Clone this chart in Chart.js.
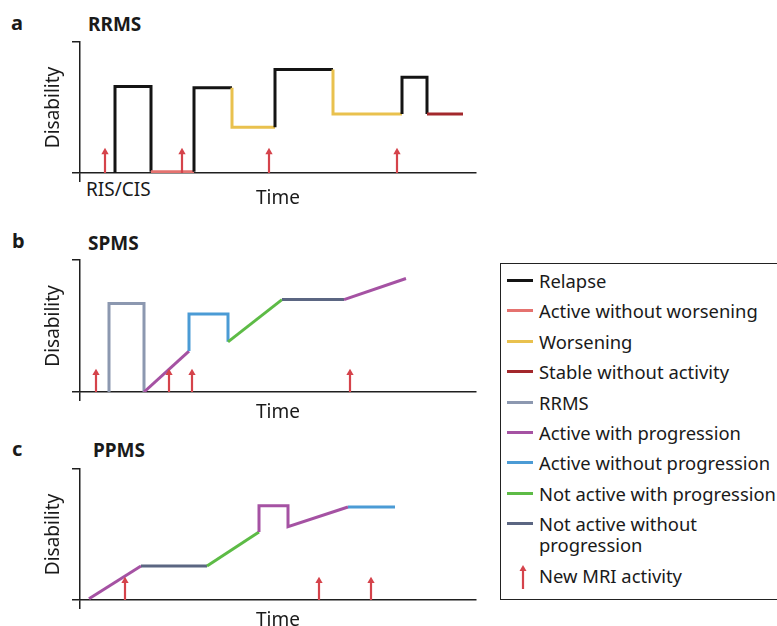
<!DOCTYPE html>
<html>
<head>
<meta charset="utf-8">
<script src="https://cdn.jsdelivr.net/npm/chart.js@4.4.1/dist/chart.umd.min.js"></script>
<style>
  html, body { margin: 0; padding: 0; background: #fff; overflow: hidden; }
  body { width: 777px; height: 626px; position: relative; font-family: "Noto Sans", sans-serif; color: #1a1a1a; }
  canvas { position: absolute; left: 0; }
  .lbl { position: absolute; white-space: nowrap; line-height: 1; }
  .letter { font-weight: bold; font-size: 20px; }
  .title { font-weight: bold; font-size: 19px; }
  .note { font-size: 19px; }
  #legend { position: absolute; left: 500px; top: 263px; width: 300px; height: 337px;
            border: 1.3px solid #222; box-sizing: border-box; padding-top: 6px; font-size: 18.4px; }
  #legend .row { position: relative; padding-left: 38px; line-height: 21.3px; margin-bottom: 9.1px; white-space: nowrap; }
  #legend .swatch { position: absolute; left: 6px; top: 9px; width: 26px; height: 3px; }
  #legend svg { position: absolute; left: 16px; top: 0; }
</style>
</head>
<body>

<div class="lbl letter" style="left:11px;top:13px">a</div>
<div class="lbl title"  style="left:88px;top:15px">RRMS</div>
<div class="lbl note"   style="left:86px;top:180px">RIS/CIS</div>
<div class="lbl letter" style="left:12px;top:231px">b</div>
<div class="lbl title"  style="left:88px;top:234px">SPMS</div>
<div class="lbl letter" style="left:12px;top:439px">c</div>
<div class="lbl title"  style="left:93px;top:441px">PPMS</div>

<canvas id="chart-rrms"></canvas>
<canvas id="chart-spms"></canvas>
<canvas id="chart-ppms"></canvas>
<div id="legend"></div>

<script>
// ---- data -------------------------------------------------------------
const phaseNames = [
  'Relapse', 'Active without worsening', 'Worsening', 'Stable without activity', 'RRMS',
  'Active with progression', 'Active without progression', 'Not active with progression',
  'Not active without progression',
];
const mriLabel = 'New MRI activity';

// a – RRMS (time, disability, phase of each segment, MRI events)
const rrmsTime       = [35, 35, 71, 71, 114, 114, 152, 152, 195, 195, 253, 253, 322, 322, 347, 347, 383];
const rrmsDisability = [0, 66, 66, 1, 1, 65, 65, 35, 35, 79, 79, 45, 45, 73, 73, 45, 45];
const rrmsPhase = ['Relapse', 'Relapse', 'Relapse', 'Active without worsening', 'Relapse', 'Relapse',
  'Worsening', 'Worsening', 'Relapse', 'Relapse', 'Worsening', 'Worsening', 'Relapse', 'Relapse',
  'Relapse', 'Stable without activity'];
const rrmsMri = [25, 102, 189, 317];

// b – SPMS
const spmsTime       = [29, 29, 64, 64, 109, 109, 148, 148, 202, 264, 326];
const spmsDisability = [0, 67, 67, 0, 31, 59, 59, 38, 70, 70, 86];
const spmsPhase = ['RRMS', 'RRMS', 'RRMS', 'Active with progression', 'Active without progression',
  'Active without progression', 'Active without progression', 'Not active with progression',
  'Not active without progression', 'Active with progression'];
const spmsMri = [16, 89, 112, 270];

// c – PPMS
const ppmsTime       = [9, 61, 127, 179, 179, 208, 208, 268, 315];
const ppmsDisability = [1, 26, 26, 52, 72, 72, 56, 71, 71];
const ppmsPhase = ['Active with progression', 'Not active without progression', 'Not active with progression',
  'Active with progression', 'Active with progression', 'Active with progression', 'Active with progression',
  'Active without progression'];
const ppmsMri = [45, 239, 291];

const mriReach = [16, 14.5, 14.5];   // height of the arrow heads per panel

// ---- styles -----------------------------------------------------------
const PHASE_COLORS = {
  'Relapse': '#141414',
  'Active without worsening': '#e5726f',
  'Worsening': '#e9c14e',
  'Stable without activity': '#a3282c',
  'RRMS': '#8c98b0',
  'Active with progression': '#a552a3',
  'Active without progression': '#4b9bd5',
  'Not active with progression': '#5dbb46',
  'Not active without progression': '#5b6682',
};
const MRI_COLOR  = '#d5434b';
const AXIS_COLOR = '#1f1f1f';
const FONT = 'Noto Sans';

// canvas placement for each panel: top of canvas, chart area top/bottom, gap above "Time"
const PANELS = [
  { id: 'chart-rrms', top: 0,   areaTop: 42,  areaBottom: 173, timePad: 5.6 },
  { id: 'chart-spms', top: 225, areaTop: 260, areaBottom: 392, timePad: 0 },
  { id: 'chart-ppms', top: 440, areaTop: 469, areaBottom: 600, timePad: 0 },
];
const CANVAS_W = 482, AREA_RIGHT = 476, AREA_LEFT = 80;

function makePanel(panel, times, levels, phases, mri, reach) {
  const cv = document.getElementById(panel.id);
  const xAxisH = 9 + panel.timePad + 19 * 1.2;
  const h = Math.ceil(panel.areaBottom - panel.top + xAxisH + 2);
  cv.width = CANVAS_W; cv.height = h;
  cv.style.top = panel.top + 'px';

  const path = times.map((t, i) => ({ x: t, y: levels[i] }));
  const arrows = [];
  mri.forEach(t => { arrows.push({ x: t, y: 0 }, { x: t, y: reach }, { x: t, y: null }); });

  // y-axis width = tick(8) + title lineHeight + title paddings
  const layoutLeft = 30;
  const yPadTop = 12.6;
  const yPadBottom = AREA_LEFT - layoutLeft - 8 - 19 * 1.2 - yPadTop;

  return new Chart(cv.getContext('2d'), {
    type: 'line',
    data: {
      datasets: [
        {
          data: arrows,
          borderColor: MRI_COLOR, backgroundColor: MRI_COLOR, borderWidth: 2.2,
          spanGaps: false,
          pointStyle: 'triangle',
          pointRadius: ctx => (ctx.dataIndex % 3 === 1 ? 4.2 : 0),
          pointBorderWidth: 0,
        },
        {
          data: path,
          borderWidth: 3, pointRadius: 0, tension: 0,
          borderColor: PHASE_COLORS[phases[0]],
          segment: { borderColor: ctx => PHASE_COLORS[phases[ctx.p0DataIndex]] },
        },
      ],
    },
    options: {
      responsive: false, animation: false, devicePixelRatio: 1,
      layout: { padding: { top: panel.areaTop - panel.top, right: CANVAS_W - AREA_RIGHT, left: layoutLeft,
                           bottom: h - (panel.areaBottom - panel.top) - xAxisH } },
      plugins: { legend: { display: false }, tooltip: { enabled: false } },
      scales: {
        x: {
          type: 'linear', min: 0, max: AREA_RIGHT - AREA_LEFT,
          afterBuildTicks: s => { s.ticks = [{ value: 0 }]; },
          ticks: { display: false },
          grid: { drawOnChartArea: false, drawTicks: true, tickLength: 9, color: AXIS_COLOR, lineWidth: 1.5 },
          border: { display: true, color: AXIS_COLOR, width: 1.5 },
          title: { display: true, text: 'Time', color: '#1a1a1a', font: { family: FONT, size: 19 },
                   padding: { top: panel.timePad, bottom: 0 } },
        },
        y: {
          type: 'linear', min: 0, max: 100,
          afterBuildTicks: s => { s.ticks = [{ value: 0 }, { value: 100 }]; },
          ticks: { display: false },
          grid: { drawOnChartArea: false, drawTicks: true, tickLength: 8, color: AXIS_COLOR, lineWidth: 1.5 },
          border: { display: true, color: AXIS_COLOR, width: 1.5 },
          title: { display: true, text: 'Disability', color: '#1a1a1a', font: { family: FONT, size: 19 },
                   padding: { top: yPadTop, bottom: yPadBottom } },
        },
      },
    },
  });
}

makePanel(PANELS[0], rrmsTime, rrmsDisability, rrmsPhase, rrmsMri, mriReach[0]);
makePanel(PANELS[1], spmsTime, spmsDisability, spmsPhase, spmsMri, mriReach[1]);
makePanel(PANELS[2], ppmsTime, ppmsDisability, ppmsPhase, ppmsMri, mriReach[2]);

// ---- legend box ------------------------------------------------------
const legend = document.getElementById('legend');
phaseNames.forEach(name => {
  const row = document.createElement('div');
  row.className = 'row';
  const sw = document.createElement('span');
  sw.className = 'swatch';
  sw.style.background = PHASE_COLORS[name];
  row.appendChild(sw);
  const txt = document.createElement('span');
  // the long last entry wraps onto two lines, as in the figure
  txt.innerHTML = name === 'Not active without progression' ? 'Not active without<br>progression' : name;
  row.appendChild(txt);
  legend.appendChild(row);
});
const mriRow = document.createElement('div');
mriRow.className = 'row';
mriRow.innerHTML =
  '<svg width="12" height="24" viewBox="0 0 12 24">' +
  '<line x1="6" y1="4" x2="6" y2="24" stroke="' + MRI_COLOR + '" stroke-width="2.2"/>' +
  '<polygon points="6,0 2.5,6 9.5,6" fill="' + MRI_COLOR + '"/></svg>' +
  '<span>' + mriLabel + '</span>';
legend.appendChild(mriRow);
</script>
</body>
</html>
